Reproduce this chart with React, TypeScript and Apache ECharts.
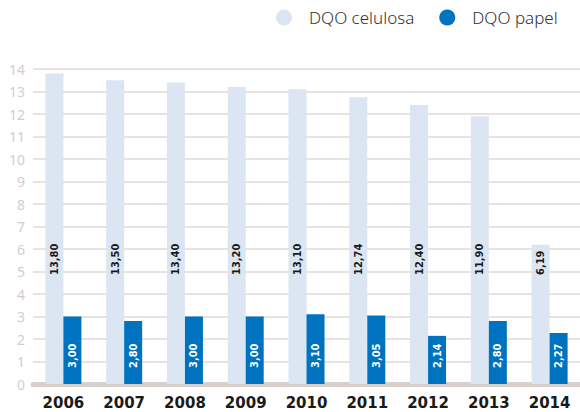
import React, { useEffect, useRef } from "react";
import * as echarts from "echarts";

const years = ["2006", "2007", "2008", "2009", "2010", "2011", "2012", "2013", "2014"];
const celulosa = [13.8, 13.5, 13.4, 13.2, 13.1, 12.74, 12.4, 11.9, 6.19];
const papel = [3.0, 2.8, 3.0, 3.0, 3.1, 3.05, 2.14, 2.8, 2.27];
const seriesNames = ["DQO celulosa", "DQO papel"];

const fmt = (p: any) => Number(p.value).toFixed(2).replace(".", ",");
const condensed = "'DejaVu Sans Condensed', 'Liberation Sans Narrow', 'DejaVu Sans', sans-serif";

export default function App() {
  const ref = useRef<HTMLDivElement>(null);
  useEffect(() => {
    if (!ref.current) return;
    const chart = echarts.init(ref.current, undefined, { renderer: "svg" });
    chart.setOption({
      animation: false,
      backgroundColor: "#ffffff",
      legend: {
        data: seriesNames,
        left: 271,
        top: 4,
        icon: "circle",
        itemWidth: 16,
        itemHeight: 16,
        itemGap: 25,
        formatter: (name: string) => `{t|${name}}`,
        textStyle: {
          fontFamily: "'Noto Sans', sans-serif",
          fontSize: 17,
          fontWeight: 300,
          color: "#333333",
          rich: {
            t: {
              fontFamily: "'Noto Sans', sans-serif",
              fontSize: 17,
              fontWeight: 300,
              color: "#333333",
              padding: [0, 0, 0, 12],
            },
          },
        },
      },
      grid: { left: 33, right: -5, top: 69, bottom: 28 },
      xAxis: {
        type: "category",
        data: years,
        offset: 2,
        axisLine: { lineStyle: { color: "#d9d0cb", width: 5 } },
        axisTick: { show: false },
        axisLabel: {
          margin: 9,
          fontFamily: "'DejaVu Sans', sans-serif",
          fontWeight: "bold",
          fontSize: 15,
          color: "#1a1a1a",
        },
      },
      yAxis: {
        type: "value",
        min: 0,
        max: 14,
        interval: 1,
        axisLine: { show: false },
        axisTick: { show: false },
        axisLabel: {
          margin: 8,
          fontFamily: "'Noto Sans', sans-serif",
          fontSize: 14,
          color: "#d6ccc8",
        },
        splitLine: { lineStyle: { color: "#e2d9d5", width: 1.5 } },
      },
      series: [
        {
          name: seriesNames[0],
          type: "bar",
          data: celulosa,
          barWidth: 18,
          barGap: "0%",
          itemStyle: { color: "#dce6f2" },
          label: {
            show: true,
            position: "insideBottom",
            distance: 109,
            rotate: 90,
            align: "left",
            verticalAlign: "middle",
            formatter: fmt,
            fontFamily: condensed,
            fontWeight: "bold",
            fontSize: 11,
            color: "#1a1a1a",
          },
        },
        {
          name: seriesNames[1],
          type: "bar",
          data: papel,
          barWidth: 18,
          barGap: "0%",
          itemStyle: { color: "#0073c0" },
          label: {
            show: true,
            position: "insideBottom",
            distance: 16,
            rotate: 90,
            align: "left",
            verticalAlign: "middle",
            formatter: fmt,
            fontFamily: condensed,
            fontWeight: "bold",
            fontSize: 11,
            color: "#ffffff",
          },
        },
      ],
    });
    return () => chart.dispose();
  }, []);
  return <div ref={ref} style={{ width: 580, height: 412, position: "absolute", left: 0, top: 0 }} />;
}
